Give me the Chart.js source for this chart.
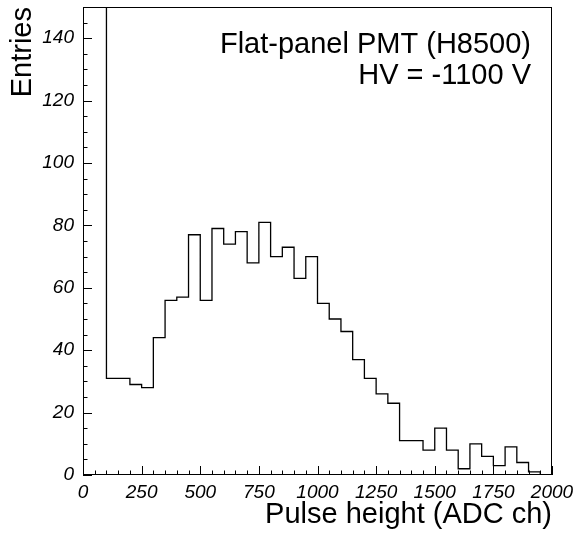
<!DOCTYPE html>
<html>
<head>
<meta charset="utf-8">
<script src="https://cdn.jsdelivr.net/npm/chart.js@4/dist/chart.umd.min.js"></script>
<style>
html,body{margin:0;padding:0;background:#fff;}
#wrap{width:579px;height:537px;}
</style>
</head>
<body>
<div id="wrap"><canvas id="c" width="579" height="537"></canvas></div>
<script>
// Bin lower edges (ADC ch), bin width 50; last entry is the upper edge of the final bin
const binEdges = [0,50,100,150,200,250,300,350,400,450,500,550,600,650,700,750,800,850,900,950,
  1000,1050,1100,1150,1200,1250,1300,1350,1400,1450,1500,1550,1600,1650,1700,1750,1800,1850,1900,1950,2000];
// Entries per bin (first two bins are the pedestal, off scale); last value repeats for the closing edge
const entries = [420,260,31,31,29,28,44,56,57,77,56,79,74,78,68,81,70,73,63,70,
  55,50,46,37,31,26,23,11,11,8,15,8,2,10,6,3,9,4,1,0,0];
const xTickLabels = [0,250,500,750,1000,1250,1500,1750,2000];
const yTickLabels = [0,20,40,60,80,100,120,140];
const legendLines = ["Flat-panel PMT (H8500)", "HV = -1100 V"];
const xTitle = "Pulse height (ADC ch)";
const yTitle = "Entries";

const FONT = "'Liberation Sans', Arial, Helvetica, sans-serif";
// each bin value is held from its lower edge to the next edge
const points = [];
for (let i = 0; i < binEdges.length - 1; i++) {
  points.push({x: binEdges[i], y: entries[i]});
  points.push({x: binEdges[i + 1], y: entries[i]});
}

const decor = {
  id: 'decor',
  afterDraw(chart) {
    const ctx = chart.ctx;
    const a = chart.chartArea;
    const xs = chart.scales.x, ys = chart.scales.y;
    ctx.save();
    ctx.strokeStyle = '#000';
    ctx.lineWidth = 1;
    ctx.strokeRect(Math.round(a.left) + 0.5, Math.round(a.top) + 0.5,
                   Math.round(a.right - a.left) - 1, Math.round(a.bottom - a.top) - 1);
    ctx.beginPath();
    for (let v = xs.min; v <= xs.max + 1e-6; v += 50) {
      const px = Math.round(xs.getPixelForValue(v)) + 0.5;
      const len = (v % 250 === 0) ? 9 : 4.5;
      ctx.moveTo(px, a.bottom);
      ctx.lineTo(px, a.bottom - len);
    }
    for (let v = ys.min; v <= ys.max + 1e-6; v += 5) {
      const py = Math.round(ys.getPixelForValue(v)) + 0.5;
      const len = (v % 20 === 0) ? 9 : 4.5;
      ctx.moveTo(a.left, py);
      ctx.lineTo(a.left + len, py);
    }
    ctx.stroke();
    ctx.fillStyle = '#000';
    ctx.font = "29px " + FONT;
    ctx.textAlign = 'right';
    ctx.textBaseline = 'alphabetic';
    ctx.fillText(legendLines[0], 531, 53);
    ctx.fillText(legendLines[1], 531, 84);
    ctx.restore();
  }
};

new Chart(document.getElementById('c'), {
  type: 'line',
  data: {
    datasets: [{
      data: points,
      borderColor: '#000',
      borderWidth: 1.3,
      pointRadius: 0,
      fill: false,
      tension: 0
    }]
  },
  options: {
    responsive: false,
    animation: false,
    devicePixelRatio: 1,
    layout: {padding: {top: 7, right: 27, left: 0, bottom: 0}},
    plugins: {legend: {display: false}, tooltip: {enabled: false}},
    scales: {
      x: {
        type: 'linear',
        min: 0, max: 2000,
        grid: {display: false, drawTicks: false},
        border: {display: false},
        afterBuildTicks(s) { s.ticks = xTickLabels.map(v => ({value: v})); },
        afterFit(s) { s.height = 62; s.paddingLeft = 0; s.paddingRight = 0; },
        ticks: {
          autoSkip: false, maxRotation: 0, padding: 6,
          color: '#000',
          callback: (v) => String(v),
          font: {family: FONT, size: 19, style: 'italic'}
        },
        title: {
          display: true, text: xTitle, align: 'end', color: '#000',
          font: {family: FONT, size: 29}, padding: {top: 0, bottom: 5}
        }
      },
      y: {
        type: 'linear',
        min: 0, max: 150,
        grid: {display: false, drawTicks: false},
        border: {display: false},
        afterBuildTicks(s) { s.ticks = yTickLabels.map(v => ({value: v})); },
        afterFit(s) { s.width = 83; s.paddingTop = 0; s.paddingBottom = 0; },
        ticks: {
          autoSkip: false, padding: 9,
          color: '#000',
          callback: (v) => String(v),
          font: {family: FONT, size: 19, style: 'italic'}
        },
        title: {
          display: true, text: yTitle, align: 'end', color: '#000',
          font: {family: FONT, size: 29}, padding: {top: 6, bottom: 0}
        }
      }
    }
  },
  plugins: [decor]
});
</script>
</body>
</html>
